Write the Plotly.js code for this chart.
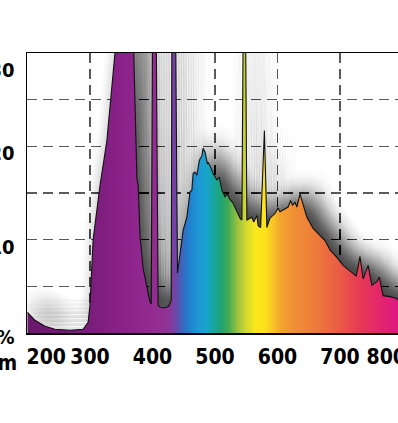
<!DOCTYPE html>
<html>
<head>
<meta charset="utf-8">
<script src="https://cdn.plot.ly/plotly-3.0.1.min.js"></script>
<style>
  html, body { margin: 0; padding: 0; background: #ffffff; }
  #chart { width: 398px; height: 423px; }
</style>
</head>
<body>
<div id="chart"></div>
<script>
// Wavelength (nm) and relative intensity (%)
const wavelength = [200,212,228,244,268,289,297,300,305,316,327,340,350,360,370,375,377,380,385,396,398,
  400,406,408,409,412,420,426,430,431,437,440,444,449,455,460,463,465,468,471,475,479,481,484,488,489,493,497,
  503,507,511,516,520,523,529,535,540,543,545,549,551,559,562,567,569,573,579,583,588,596,601,604,612,617,621,
  624,628,631,636,640,647,657,668,676,684,695,705,716,726,732,737,745,751,759,763,767,769,780,791,793];
const intensity = [2.2,1.36,0.72,0.40,0.29,0.40,1.15,3.0,10,15.8,20.6,30,34,34,30,16.6,15.8,10.5,6.9,3.3,3.1,
  32,32,3.5,3.0,2.75,2.7,2.86,3.5,32,32,6.4,8.5,11.0,12.4,15.1,15.3,17.1,17.25,16.9,18.5,19.0,19.8,19.4,18.1,18.3,17.8,17.1,
  16.4,16.7,15.3,14.6,14.9,14.4,13.9,13.1,12.3,12.1,32,32,12.1,12.4,11.9,12.6,11.5,11.3,21.7,11.3,12.3,12.8,13.4,13.0,13.3,13.5,14.2,
  13.7,14.0,13.5,14.9,13.9,12.4,11.2,10.5,9.9,8.9,8.1,7.25,6.7,6.1,8.2,5.8,7.25,5.1,5.5,6.0,4.6,4.0,3.9,3.7,3.5];

// Axis labels
const xTickLabels = ['200','300','400','500','600','700','800'];
const xTickLabelAt = [230, 300, 400, 500, 600, 700, 774];
const yTickLabels = ['30','20','10','%'];
const yTickLabelAt = [28.9, 20, 10, 0.3];
const xGridAt = [300, 400, 500, 600, 700];
const yGridAt = [5, 10, 15, 20, 25];
const xUnit = 'nm';

// Spectral colour stops (nm, colour)
const specNm = [200,300,350,400,425,438,448,460,475,488,498,510,522,535,550,565,580,592,605,625,660,700,730,760,793];
const specCol = ['#6a186c','#7a1d7a','#8a2189','#942b91','#8f3496','#6a48a8','#3868bf','#1f82cf','#1d9ad6','#18a5c8',
  '#17a69e','#20a472','#45aa55','#94c040','#d4d830','#fce81c','#fde21c','#f9c726','#f3a42e','#f09035','#ed7c3a',
  '#ea5a45','#e63c55','#e32868','#de1880'];

const X0 = 199.2, X1 = 792.8, Y0 = 0, Y1 = 30;
const pxPerNm = 371 / (X1 - X0);
const pxPerUnit = 280 / (Y1 - Y0);
const FONT = 'Liberation Sans Narrow, DejaVu Sans Condensed, Arial Narrow, sans-serif';

const traces = [];

// Soft drop shadow: many faint offset copies of the same spectrum (Gaussian weights)
const sh = { cx: 11, cy: 11, sx: 2.5, nx: 10, sy: 4, ny: 6, sigma: 13, peak: 0.009 };
for (let i = -sh.nx; i <= sh.nx; i++) {
  for (let j = -sh.ny; j <= sh.ny; j++) {
    const ox = i * sh.sx, oy = j * sh.sy;
    const w = Math.exp(-(ox * ox + oy * oy) / (2 * sh.sigma * sh.sigma));
    const a = sh.peak * w;
    if (a < 0.0008) continue;
    const dx = (sh.cx + ox) / pxPerNm, dy = (sh.cy + oy) / pxPerUnit;
    const xs = wavelength.map(v => v + dx);
    const ys = intensity.map(v => v + dy);
    const xl = wavelength[wavelength.length - 1] + dx + 60;
    xs.push(xl, xl, wavelength[0] + dx);
    ys.push(intensity[intensity.length - 1] + dy, dy, dy);
    traces.push({
      x: xs, y: ys, type: 'scatter', mode: 'lines', fill: 'toself',
      fillcolor: 'rgba(0,0,0,' + a.toFixed(4) + ')', line: { width: 0 },
      hoverinfo: 'skip', showlegend: false
    });
  }
}

// Spectrum with horizontal rainbow gradient fill
const span = specNm[specNm.length - 1] - specNm[0];
traces.push({
  x: wavelength, y: intensity, type: 'scatter', mode: 'lines', fill: 'tozeroy',
  line: { color: '#111111', width: 1.1 },
  fillgradient: {
    type: 'horizontal', start: specNm[0], stop: specNm[specNm.length - 1],
    colorscale: specNm.map((n, k) => [(n - specNm[0]) / span, specCol[k]])
  },
  hoverinfo: 'skip', showlegend: false
});

// invisible anchor trace for the grid axes
traces.push({
  x: [wavelength[0]], y: [intensity[0]], xaxis: 'x2', yaxis: 'y2', type: 'scatter', mode: 'markers',
  marker: { opacity: 0 }, hoverinfo: 'skip', showlegend: false
});

const labelFont = { family: FONT, size: 21, color: '#000000', weight: 'bold' };

const layout = {
  width: 398, height: 423,
  margin: { l: 27, r: 0, t: 53, b: 90 },
  paper_bgcolor: '#ffffff', plot_bgcolor: '#ffffff',
  showlegend: false,
  xaxis: {
    range: [X0, X1], tickvals: xTickLabelAt, ticktext: xTickLabels, showgrid: false, zeroline: false,
    showline: true, mirror: true, linecolor: '#000000', linewidth: 1.5, ticks: '',
    tickfont: labelFont, ticklabelstandoff: 4, ticklabeloverflow: 'allow', layer: 'above traces', fixedrange: true
  },
  yaxis: {
    range: [Y0, Y1], tickvals: yTickLabelAt, ticktext: yTickLabels, showgrid: false, zeroline: false,
    showline: true, linecolor: '#000000', linewidth: 1.5, ticks: '', ticklabelshift: 7,
    tickfont: { family: FONT, size: 20, color: '#000000', weight: 'bold' }, ticklabelstandoff: 7,
    ticklabeloverflow: 'allow', layer: 'above traces', fixedrange: true
  },
  xaxis2: {
    overlaying: 'x', range: [X0, X1], tickvals: xGridAt, showticklabels: false, ticks: '',
    showgrid: true, gridcolor: '#5a5a5a', gridwidth: 1.4, griddash: '10px,6px', zeroline: false, showline: false
  },
  yaxis2: {
    overlaying: 'y', range: [Y0, Y1], tickvals: yGridAt, showticklabels: false, ticks: '',
    showgrid: true, gridcolor: '#5a5a5a', gridwidth: 1.4, griddash: '10px,6px', zeroline: false, showline: false
  },
  annotations: [{
    text: xUnit, xref: 'paper', yref: 'paper', x: -0.022, y: -0.106, xanchor: 'right', yanchor: 'middle',
    showarrow: false, font: labelFont
  }]
};

Plotly.newPlot('chart', traces, layout, { displayModeBar: false, staticPlot: true });
</script>
</body>
</html>
